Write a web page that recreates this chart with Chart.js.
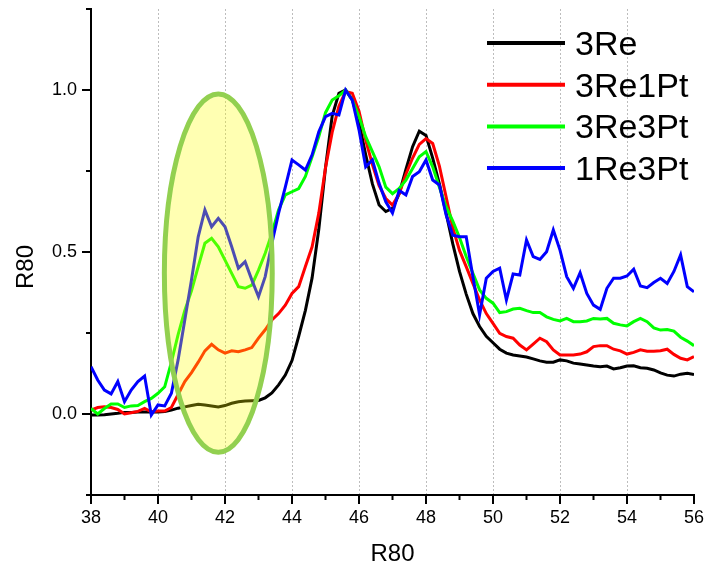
<!DOCTYPE html>
<html>
<head>
<meta charset="utf-8">
<script src="https://cdn.jsdelivr.net/npm/chart.js@4.4.0/dist/chart.umd.min.js"></script>
<style>
  html, body { margin: 0; padding: 0; background: #fff; }
  #wrap { width: 706px; height: 564px; }
</style>
</head>
<body>
<div id="wrap"><canvas id="chart1" width="706" height="564"></canvas></div>
<script>
// sample positions (R80 axis)
const xs = [
  38.0, 38.2, 38.4, 38.6, 38.8, 39.0, 39.2, 39.4, 39.6, 39.8,
  40.0, 40.2, 40.4, 40.6, 40.8, 41.0, 41.2, 41.4, 41.6, 41.8,
  42.0, 42.2, 42.4, 42.6, 42.8, 43.0, 43.2, 43.4, 43.6, 43.8,
  44.0, 44.2, 44.4, 44.6, 44.8, 45.0, 45.2, 45.4, 45.6, 45.8,
  46.0, 46.2, 46.4, 46.6, 46.8, 47.0, 47.2, 47.4, 47.6, 47.8,
  48.0, 48.2, 48.4, 48.6, 48.8, 49.0, 49.2, 49.4, 49.6, 49.8,
  50.0, 50.2, 50.4, 50.6, 50.8, 51.0, 51.2, 51.4, 51.6, 51.8,
  52.0, 52.2, 52.4, 52.6, 52.8, 53.0, 53.2, 53.4, 53.6, 53.8,
  54.0, 54.2, 54.4, 54.6, 54.8, 55.0, 55.2, 55.4, 55.6, 55.8,
  56.0
];

const sample3Re = [
  -0.003, -0.003, -0.002, 0.0, 0.002, 0.005, 0.005, 0.006, 0.006, 0.006,
  0.006, 0.008, 0.012, 0.018, 0.022, 0.026, 0.03, 0.028, 0.025, 0.022,
  0.026, 0.033, 0.038, 0.04, 0.041, 0.042, 0.05, 0.065, 0.09, 0.12,
  0.165, 0.24, 0.32, 0.42, 0.57, 0.76, 0.92, 0.99, 1.0, 0.97,
  0.9, 0.8, 0.71, 0.645, 0.625, 0.635, 0.68, 0.755, 0.825, 0.873,
  0.86, 0.79, 0.71, 0.62, 0.525, 0.44, 0.37, 0.31, 0.27, 0.24,
  0.22, 0.2, 0.188, 0.182, 0.179, 0.176, 0.17, 0.164, 0.16, 0.16,
  0.167, 0.164, 0.157, 0.154, 0.151, 0.148, 0.146, 0.148, 0.139, 0.143,
  0.148, 0.149, 0.143, 0.141, 0.136, 0.127, 0.12, 0.117, 0.123, 0.126,
  0.122
];

const sample3Re1Pt = [
  0.012, 0.02, 0.022, 0.02, 0.014, 0.0, 0.004, 0.008, 0.017, 0.007,
  0.009, 0.009, 0.02, 0.06, 0.1, 0.128, 0.16, 0.195, 0.215, 0.198,
  0.188, 0.195, 0.192, 0.198, 0.205, 0.234, 0.26, 0.29, 0.31, 0.336,
  0.372, 0.393, 0.455, 0.516, 0.62, 0.76, 0.87, 0.95, 0.995, 0.99,
  0.935, 0.845, 0.77, 0.705, 0.665, 0.645, 0.68, 0.74, 0.79, 0.832,
  0.85, 0.835, 0.765, 0.67, 0.575, 0.505, 0.455, 0.403, 0.352, 0.31,
  0.28, 0.249, 0.239, 0.234, 0.213, 0.198, 0.216, 0.234, 0.223, 0.198,
  0.182, 0.182, 0.182, 0.185, 0.192, 0.208, 0.211, 0.211, 0.2, 0.195,
  0.185, 0.19, 0.198, 0.194, 0.194, 0.195, 0.2, 0.184, 0.172, 0.167,
  0.177
];

const sample3Re3Pt = [
  0.017, 0.0, 0.017, 0.031, 0.031, 0.02, 0.025, 0.026, 0.038, 0.048,
  0.064, 0.084, 0.16, 0.245, 0.32, 0.38, 0.455, 0.527, 0.542, 0.516,
  0.475, 0.434, 0.393, 0.388, 0.398, 0.444, 0.496, 0.558, 0.63, 0.676,
  0.686, 0.696, 0.733, 0.794, 0.856, 0.93, 0.969, 0.982, 1.0, 0.969,
  0.918, 0.856, 0.81, 0.763, 0.70, 0.68, 0.696, 0.722, 0.758, 0.794,
  0.81, 0.763, 0.70, 0.64, 0.595, 0.545, 0.486, 0.434, 0.383, 0.357,
  0.342, 0.313, 0.316, 0.324, 0.326, 0.319, 0.313, 0.313, 0.30, 0.292,
  0.287, 0.295, 0.285, 0.285, 0.287, 0.295, 0.293, 0.295, 0.28, 0.275,
  0.272, 0.285, 0.295, 0.285, 0.266, 0.259, 0.261, 0.256, 0.237, 0.225,
  0.211
];

const sample1Re3Pt = [
  0.146, 0.105, 0.074, 0.062, 0.1, 0.038, 0.074, 0.1, 0.117, -0.003,
  0.028, 0.025, 0.064, 0.167, 0.29, 0.414, 0.547, 0.63, 0.578, 0.604,
  0.578, 0.516, 0.45, 0.47, 0.414, 0.362, 0.424, 0.527, 0.62, 0.70,
  0.784, 0.769, 0.753, 0.80, 0.871, 0.918, 0.928, 0.923, 1.0, 0.969,
  0.877, 0.763, 0.784, 0.712, 0.655, 0.62, 0.69, 0.676, 0.733, 0.748,
  0.784, 0.722, 0.707, 0.615, 0.552, 0.547, 0.547, 0.424, 0.306, 0.419,
  0.44, 0.45, 0.352, 0.432, 0.429, 0.537, 0.486, 0.477, 0.501, 0.568,
  0.506, 0.424, 0.388, 0.436, 0.372, 0.336, 0.323, 0.388, 0.419, 0.419,
  0.426, 0.447, 0.395, 0.39, 0.406, 0.419, 0.403, 0.44, 0.491, 0.393,
  0.377
];

const seriesNames = ['3Re', '3Re1Pt', '3Re3Pt', '1Re3Pt'];
const seriesValues = [sample3Re, sample3Re1Pt, sample3Re3Pt, sample1Re3Pt];
const seriesColors = ['#000000', '#ff0000', '#00ff00', '#0000ff'];

const yLabelTicks = [0, 0.5, 1.0];
const xLabelTicks = [38, 40, 42, 44, 46, 48, 50, 52, 54, 56];

// shoulder region marked by the ellipse (data units)
const shoulder = { x: 41.8, y: 0.435, rx: 1.61, ry: 0.553 };

const FONT = '"Liberation Sans", Arial, sans-serif';

const data1 = {
  datasets: seriesNames.map(function (name, i) {
    return {
      label: name,
      data: xs.map(function (x, j) { return { x: x, y: seriesValues[i][j] }; }),
      borderColor: seriesColors[i],
      backgroundColor: seriesColors[i],
      borderWidth: 3,
      pointRadius: 0,
      tension: 0,
      order: seriesNames.length - i   // last series on top
    };
  })
};

const decor = {
  id: 'decor',
  afterDatasetsDraw(chart) {
    const ctx = chart.ctx, x = chart.scales.x, y = chart.scales.y;
    const cx = x.getPixelForValue(shoulder.x);
    const cy = y.getPixelForValue(shoulder.y);
    const rx = Math.abs(x.getPixelForValue(shoulder.x + shoulder.rx) - cx);
    const ry = Math.abs(y.getPixelForValue(shoulder.y + shoulder.ry) - cy);
    ctx.save();
    ctx.beginPath();
    ctx.ellipse(cx, cy, rx, ry, 0, 0, Math.PI * 2);
    ctx.fillStyle = 'rgba(255, 255, 0, 0.3)';
    ctx.fill();
    ctx.lineWidth = 5;
    ctx.strokeStyle = '#92d050';
    ctx.stroke();
    ctx.restore();
  },
  afterDraw(chart) {
    const ctx = chart.ctx, x = chart.scales.x, y = chart.scales.y;
    const area = chart.chartArea;
    ctx.save();
    ctx.strokeStyle = '#000';
    ctx.lineWidth = 2;

    // tick marks, outside the axes: long on labelled values, short between
    x.ticks.forEach(function (t) {
      const px = x.getPixelForValue(t.value);
      const len = xLabelTicks.includes(t.value) ? 9 : 5;
      ctx.beginPath();
      ctx.moveTo(px, area.bottom);
      ctx.lineTo(px, area.bottom + len);
      ctx.stroke();
    });
    y.ticks.forEach(function (t) {
      const py = y.getPixelForValue(t.value);
      const len = yLabelTicks.includes(t.value) ? 9 : 5;
      ctx.beginPath();
      ctx.moveTo(area.left, py);
      ctx.lineTo(area.left - len, py);
      ctx.stroke();
    });

    // axis titles
    ctx.fillStyle = '#000';
    ctx.font = '24px ' + FONT;
    ctx.textAlign = 'center';
    ctx.textBaseline = 'alphabetic';
    ctx.fillText('R80', (area.left + area.right) / 2, 561);
    ctx.save();
    ctx.translate(33, 267);
    ctx.rotate(-Math.PI / 2);
    ctx.fillText('R80', 0, 0);
    ctx.restore();

    // legend
    ctx.font = '34px ' + FONT;
    ctx.textAlign = 'left';
    chart.data.datasets.forEach(function (ds, i) {
      const rowY = 43 + i * 41.7;
      ctx.beginPath();
      ctx.strokeStyle = ds.borderColor;
      ctx.lineWidth = 4;
      ctx.moveTo(487, rowY);
      ctx.lineTo(565, rowY);
      ctx.stroke();
      ctx.fillText(ds.label, 575, rowY + 12);
    });
    ctx.restore();
  }
};

const config1 = {
  type: 'line',
  data: data1,
  options: {
    responsive: false,
    animation: false,
    layout: { padding: { left: 0, right: 12, top: 9, bottom: 0 } },
    plugins: {
      legend: { display: false },
      tooltip: { enabled: false }
    },
    scales: {
      x: {
        type: 'linear',
        min: 38,
        max: 56,
        afterFit: function (scale) {
          scale.height = 69;
          scale.paddingLeft = 0;
          scale.paddingRight = 0;
        },
        ticks: {
          stepSize: 1,
          autoSkip: false,
          maxRotation: 0,
          padding: 12,
          color: '#000',
          font: { family: FONT, size: 18 },
          callback: function (v) { return xLabelTicks.includes(v) ? String(v) : ''; }
        },
        grid: {
          drawTicks: false,
          lineWidth: 1,
          color: function (c) {
            const v = c.tick && c.tick.value;
            return (v > 38 && v < 56 && v % 2 === 0) ? '#bdbdbd' : 'rgba(0,0,0,0)';
          }
        },
        border: { display: true, color: '#000', width: 2, dash: [2, 2] }
      },
      y: {
        min: -0.25,
        max: 1.25,
        afterFit: function (scale) {
          scale.width = 91;
          scale.paddingTop = 0;
          scale.paddingBottom = 0;
        },
        ticks: {
          stepSize: 0.25,
          autoSkip: false,
          padding: 14,
          color: '#000',
          font: { family: FONT, size: 18 },
          callback: function (v) { return yLabelTicks.includes(v) ? v.toFixed(1) : ''; }
        },
        grid: { display: false, drawTicks: false },
        border: { display: true, color: '#000', width: 2 }
      }
    }
  },
  plugins: [decor]
};

const ctx1 = document.getElementById('chart1').getContext('2d');
new Chart(ctx1, config1);
</script>
</body>
</html>
